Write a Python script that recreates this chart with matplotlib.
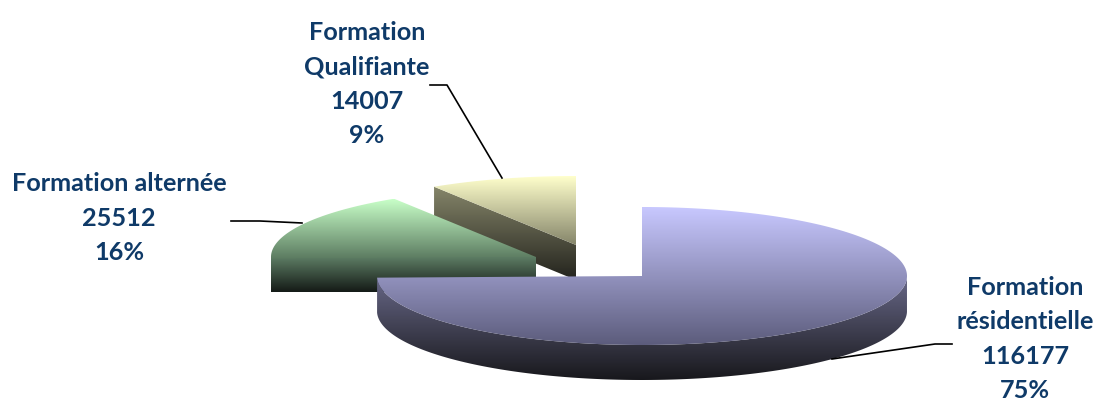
import numpy as np
import matplotlib
matplotlib.use("Agg")
import matplotlib.pyplot as plt
from matplotlib.colors import LinearSegmentedColormap
from matplotlib.patches import Polygon

categories = ["Formation\nrésidentielle", "Formation alternée", "Formation\nQualifiante"]
values = [116177, 25512, 14007]
percent_labels = ["75%", "16%", "9%"]

RX, RY, DEPTH = 265, 69, 35
centres = [(642, 276), (536, 257), (576, 245)]
top_colours = [["#c8c8ff", "#5c5c7c"], ["#c8ffc8", "#5b7a60"], ["#ffffcc", "#85856a"]]
side_colours = [["#686888", "#18181c"], ["#5f7f66", "#141a16"], ["#86866a", "#23231d"]]
label_pos = [(1025, 339), (119, 218), (367, 84)]
leaders = [[(832, 359), (935, 344), (952, 344)],
           [(231, 221), (260, 221), (302, 223)],
           [(430, 85), (447, 85), (502, 178)]]
TEXT = "#0f3a68"

fig = plt.figure(figsize=(11.01, 4.05), dpi=100)
ax = fig.add_axes([0, 0, 1, 1])
ax.axis("off")


def fill_gradient(pts, colours, z):
    pts = np.asarray(pts)
    ymin, ymax = pts[:, 1].min(), pts[:, 1].max()
    cmap = LinearSegmentedColormap.from_list("g", colours)
    im = ax.imshow(np.linspace(0, 1, 256)[:, None], cmap=cmap, aspect="auto",
                   extent=[pts[:, 0].min(), pts[:, 0].max(), ymax, ymin],
                   interpolation="bilinear", zorder=z)
    patch = Polygon(pts, closed=True, transform=ax.transData, fc="none", ec="none")
    ax.add_patch(patch)
    im.set_clip_path(patch)


# wedge angles, clockwise from 12 o'clock
fractions = np.array(values) / np.sum(values)
edges = 90 - 360 * np.concatenate([[0], np.cumsum(fractions)])

# draw back to front: yellow, green, blue
for i in [2, 1, 0]:
    cx, cy = centres[i]
    t = np.radians(np.linspace(edges[i], edges[i + 1], 300))
    ex, ey = cx + RX * np.cos(t), cy - RY * np.sin(t)
    z = 3 - i
    if i == 0:
        # rim facing the viewer
        front = t <= 0
        fx, fy = ex[front], ey[front]
        side = np.r_[np.c_[fx, fy], np.c_[fx, fy + DEPTH][::-1]]
    else:
        # cut face from the wedge's leftmost rim point to its apex
        k = np.argmin(ex)
        side = [(ex[k], ey[k]), (cx, cy), (cx, cy + DEPTH), (ex[k], ey[k] + DEPTH)]
    fill_gradient(side, side_colours[i], z)
    top = np.r_[[[cx, cy]], np.c_[ex, ey]]
    fill_gradient(top, top_colours[i], z + 0.5)

for pts in leaders:
    xs, ys = zip(*pts)
    ax.plot(xs, ys, color="black", lw=1.2, zorder=5)

for name, val, pct, (x, y) in zip(categories, values, percent_labels, label_pos):
    ax.text(x, y, f"{name}\n{val}\n{pct}", ha="center", va="center", color=TEXT,
            family="Lato", weight="bold", fontsize=18.2, linespacing=1.6, zorder=6)

ax.set_xlim(0, 1101)
ax.set_ylim(405, 0)
fig.savefig("out.png", dpi=100, facecolor="white")
